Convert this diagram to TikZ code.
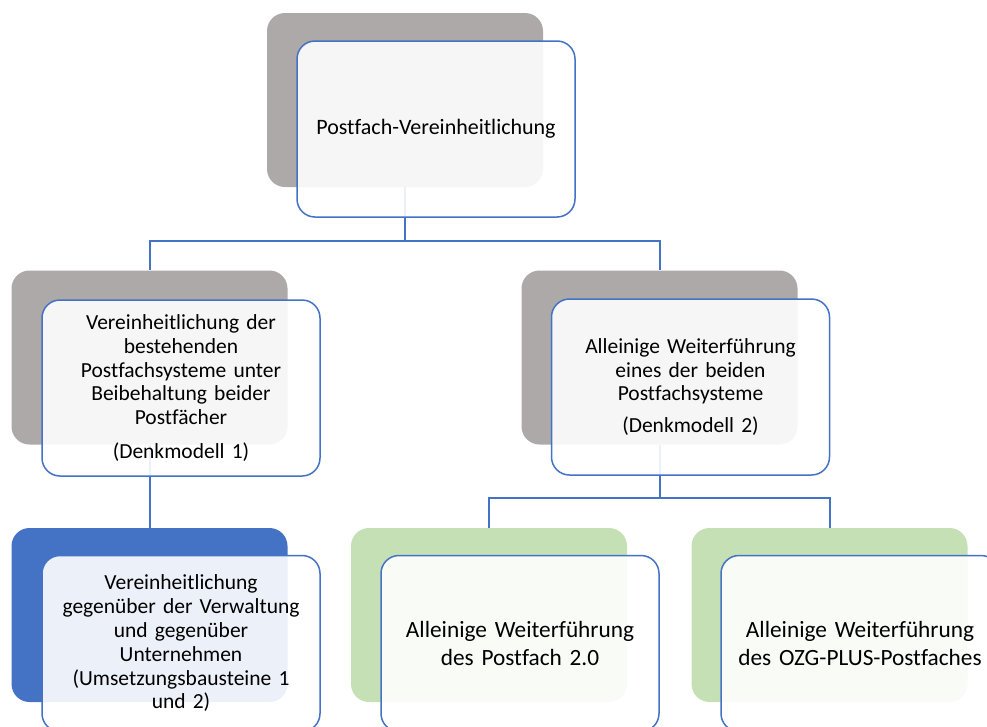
\documentclass[tikz,border=0pt]{standalone}
\usepackage{fontspec}
\setmainfont{Carlito}[Ligatures=NoCommon]
\definecolor{boxgray}{HTML}{ADA9A8}
\definecolor{boxblue}{HTML}{4472C4}
\definecolor{boxgreen}{HTML}{C5E0B4}
\definecolor{linkblue}{HTML}{4472C4}

\begin{document}
\begin{tikzpicture}[x = 1pt, y = -1pt,
        every node/.style={rounded corners=18pt, minimum width=276pt, minimum height=174pt, inner sep=0pt},
        back/.style={fill=boxgray},
        front/.style={draw=boxblue, line width=1.5pt, fill=white, fill opacity=0.9, text opacity=1,
            minimum width=278pt, minimum height=176pt, text width=270pt, align=center,
            font=\fontsize{21.5}{23.8}\selectfont},
        link/.style={draw=linkblue, line width=2pt}
]
    \clip (0,0) rectangle (987,726);
    % back boxes
    \node[back] (btop) at (405,100) {};
    \node[back] (bleft) at (149.5,357.5) {};
    \node[back] (bright) at (659.5,357.5) {};
    \node[back, fill=boxblue] (bunits) at (149.5,615) {};
    \node[back, fill=boxgreen] (bpost) at (489,615) {};
    \node[back, fill=boxgreen] (bozg) at (829.5,615) {};
    % connectors
    \coordinate (j1) at (405,241);
    \coordinate (j2) at (659.5,498);
    \draw[link] (btop.south) -- (j1) -| (bleft.north);
    \draw[link] (j1) -| (bright.north);
    \draw[link] (bleft.south) -- (bunits.north);
    \draw[link] (bright.south) -- (j2) -| (bpost.north);
    \draw[link] (j2) -| (bozg.north);
    % front boxes
    \node[front, font=\fontsize{22}{26}\selectfont] (top) at (436,129) {Postfach-Vereinheitlichung};
    \node[front] (left) at (181,388) {Vereinheitlichung der\\ bestehenden\\ Postfachsysteme unter\\ Beibehaltung beider\\ Postfächer\\[10pt] (Denkmodell 1)};
    \node[front] (right) at (690.5,387) {Alleinige Weiterführung\\ eines der beiden\\ Postfachsysteme\\[8pt] (Denkmodell 2)};
    \node[front] (units) at (181,643.5) {Vereinheitlichung\\ gegenüber der Verwaltung\\ und gegenüber\\ Unternehmen\\ (Umsetzungsbausteine 1\\ und 2)};
    \node[front, font=\fontsize{23.3}{28}\selectfont] (post) at (520,643.5) {Alleinige Weiterführung\\ des Postfach 2.0};
    \node[front, font=\fontsize{23.3}{28}\selectfont] (ozg) at (860,643.5) {Alleinige Weiterführung\\ des OZG-PLUS-Postfaches};

\end{tikzpicture}
\end{document}
